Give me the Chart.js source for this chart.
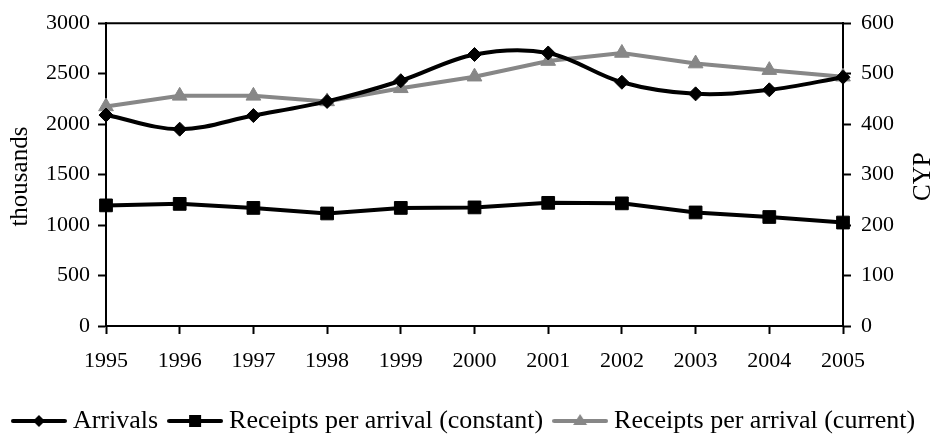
<!DOCTYPE html>
<html>
<head>
<meta charset="utf-8">
<script src="https://cdn.jsdelivr.net/npm/chart.js@4/dist/chart.umd.min.js"></script>
<style>
  html, body { margin: 0; padding: 0; background: #ffffff; }
  #wrap { width: 933px; height: 436px; }
</style>
</head>
<body>
<div id="wrap"><canvas id="chart" width="933" height="436"></canvas></div>
<script>
// Tourism indicators, 1995-2005
const years = ['1995', '1996', '1997', '1998', '1999', '2000', '2001', '2002', '2003', '2004', '2005'];
// Arrivals, thousands (left axis)
const arrivals = [2090, 1950, 2085, 2225, 2430, 2690, 2705, 2415, 2300, 2340, 2465];
// Receipts per arrival, CYP (right axis)
const receiptsConstant = [239, 242, 234, 223, 234, 235, 244, 243, 225, 216, 205];
const receiptsCurrent = [435, 456, 456, 445, 471, 494, 525, 541, 520, 507, 494];

const leftTicks = [0, 500, 1000, 1500, 2000, 2500, 3000];
const rightTicks = [0, 100, 200, 300, 400, 500, 600];

const FONT = '"Liberation Serif", "DejaVu Serif", serif';
const GREY = '#878787';

// Legend icon: a short line with the series marker in its middle
function legendIcon(color, shape) {
  const c = document.createElement('canvas');
  c.width = 56; c.height = 20;
  const g = c.getContext('2d');
  g.strokeStyle = color; g.fillStyle = color;
  g.lineWidth = 4; g.lineCap = 'round';
  g.beginPath(); g.moveTo(2, 10); g.lineTo(54, 10); g.stroke();
  const cx = 28, cy = 10;
  g.beginPath();
  if (shape === 'diamond') {
    g.moveTo(cx - 6, cy); g.lineTo(cx, cy - 6); g.lineTo(cx + 6, cy); g.lineTo(cx, cy + 6);
  } else if (shape === 'square') {
    g.rect(cx - 6, cy - 6, 12, 12);
  } else {
    g.moveTo(cx, cy - 7); g.lineTo(cx + 7, cy + 4); g.lineTo(cx - 7, cy + 4);
  }
  g.closePath(); g.fill();
  return c;
}

const icons = [
  legendIcon('#000000', 'diamond'),
  legendIcon('#000000', 'square'),
  legendIcon(GREY, 'triangle')
];

// Frame line along the top and rotated axis titles
const decorations = {
  id: 'decorations',
  afterDraw(chart) {
    const { ctx, chartArea } = chart;
    ctx.save();
    ctx.strokeStyle = '#000000';
    ctx.lineWidth = 2;
    ctx.beginPath();
    ctx.moveTo(chartArea.left, chartArea.top);
    ctx.lineTo(chartArea.right, chartArea.top);
    ctx.stroke();

    ctx.fillStyle = '#000000';
    ctx.font = '25px ' + FONT;
    ctx.textAlign = 'center';
    ctx.textBaseline = 'middle';
    const midY = (chartArea.top + chartArea.bottom) / 2 + 2;
    ctx.save();
    ctx.translate(20, midY);
    ctx.rotate(-Math.PI / 2);
    ctx.fillText('thousands', 0, 0);
    ctx.restore();
    ctx.save();
    ctx.translate(923, midY);
    ctx.rotate(-Math.PI / 2);
    ctx.fillText('CYP', 0, 0);
    ctx.restore();
    ctx.restore();
  }
};

const axisGrid = {
  drawOnChartArea: false,
  drawTicks: true,
  tickLength: 8,
  tickColor: '#000000',
  tickWidth: 2,
  color: '#000000'
};

const plainNumber = v => String(v);

new Chart(document.getElementById('chart'), {
  type: 'line',
  data: {
    labels: years,
    datasets: [
      {
        label: 'Arrivals',
        data: arrivals,
        yAxisID: 'yLeft',
        borderColor: '#000000',
        backgroundColor: '#000000',
        borderWidth: 4,
        tension: 0.35,
        pointStyle: 'rectRot',
        pointRadius: 7,
        pointBorderWidth: 1,
        pointBorderColor: '#000000',
        pointBackgroundColor: '#000000'
      },
      {
        label: 'Receipts per arrival (constant)',
        data: receiptsConstant,
        yAxisID: 'yRight',
        borderColor: '#000000',
        backgroundColor: '#000000',
        borderWidth: 4,
        tension: 0,
        pointStyle: 'rect',
        pointRadius: 9,
        pointBorderWidth: 1,
        pointBorderColor: '#000000',
        pointBackgroundColor: '#000000'
      },
      {
        label: 'Receipts per arrival (current)',
        data: receiptsCurrent,
        yAxisID: 'yRight',
        borderColor: GREY,
        backgroundColor: GREY,
        borderWidth: 4,
        tension: 0,
        pointStyle: 'triangle',
        pointRadius: 8.5,
        pointBorderWidth: 1,
        pointBorderColor: GREY,
        pointBackgroundColor: GREY
      }
    ]
  },
  options: {
    responsive: false,
    animation: false,
    devicePixelRatio: 1,
    layout: { padding: { top: 20, bottom: 0, left: 0, right: 0 } },
    plugins: {
      tooltip: { enabled: false },
      legend: {
        position: 'bottom',
        maxHeight: 44,
        labels: {
          usePointStyle: true,
          pointStyleWidth: 42,
          padding: 16,
          color: '#000000',
          font: { family: FONT, size: 26 },
          generateLabels(chart) {
            return chart.data.datasets.map((ds, i) => ({
              text: ds.label,
              pointStyle: icons[i],
              fillStyle: ds.borderColor,
              strokeStyle: ds.borderColor,
              lineWidth: 0,
              hidden: false,
              datasetIndex: i,
              fontColor: '#000000'
            }));
          }
        }
      }
    },
    scales: {
      x: {
        type: 'category',
        offset: false,
        grid: Object.assign({}, axisGrid, { offset: false }),
        border: { display: true, color: '#000000', width: 2 },
        ticks: {
          color: '#000000',
          font: { family: FONT, size: 22 },
          padding: 14,
          maxRotation: 0,
          autoSkip: false
        },
        afterFit(scale) { scale.height = 66; }
      },
      yLeft: {
        type: 'linear',
        position: 'left',
        min: 0,
        max: 3000,
        afterBuildTicks(scale) { scale.ticks = leftTicks.map(v => ({ value: v })); },
        grid: axisGrid,
        border: { display: true, color: '#000000', width: 2 },
        ticks: {
          color: '#000000',
          font: { family: FONT, size: 22 },
          padding: 8,
          callback: plainNumber
        },
        afterFit(scale) { scale.width = 106; }
      },
      yRight: {
        type: 'linear',
        position: 'right',
        min: 0,
        max: 600,
        afterBuildTicks(scale) { scale.ticks = rightTicks.map(v => ({ value: v })); },
        grid: axisGrid,
        border: { display: true, color: '#000000', width: 2 },
        ticks: {
          color: '#000000',
          font: { family: FONT, size: 22 },
          padding: 10,
          callback: plainNumber
        },
        afterFit(scale) { scale.width = 90; }
      }
    }
  },
  plugins: [decorations]
});
</script>
</body>
</html>
